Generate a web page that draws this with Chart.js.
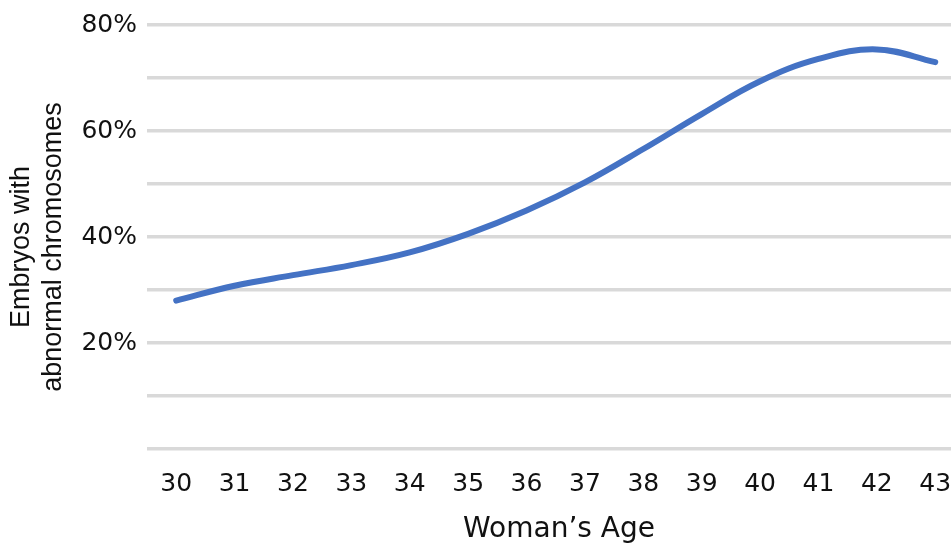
<!DOCTYPE html>
<html>
<head>
<meta charset="utf-8">
<script src="https://cdn.jsdelivr.net/npm/chart.js"></script>
<style>
  html, body { margin: 0; padding: 0; background: #fff; }
  #wrap { width: 951px; height: 544px; }
</style>
</head>
<body>
<div id="wrap"><canvas id="line-chart"></canvas></div>
<script>
const ages = [30, 31, 32, 33, 34, 35, 36, 37, 38, 39, 40, 41, 42, 43];
const abnormalPct = [28.0, 30.8, 32.8, 34.7, 37.1, 40.6, 45.0, 50.3, 56.6, 63.2, 69.4, 73.6, 75.4, 73.0];
const yLabels = [20, 40, 60, 80];
const xTitle = 'Woman\u2019s Age';
const yTitle = ['Embryos with', 'abnormal chromosomes'];

const tickFont = { family: "'DejaVu Sans', sans-serif", size: 25 };

// axis titles drawn by hand so they can sit a bit off the plot centre like the original
const axisTitles = {
    id: 'axisTitles',
    afterDraw(chart) {
        const { ctx, chartArea } = chart;
        ctx.save();
        ctx.fillStyle = '#111';
        ctx.textAlign = 'center';

        ctx.font = "28px 'DejaVu Sans', sans-serif";
        ctx.textBaseline = 'alphabetic';
        ctx.fillText(xTitle, (chartArea.left + chartArea.right) / 2 + 10, 537);

        ctx.font = "27px 'Liberation Sans', Arial, sans-serif";
        ctx.textBaseline = 'middle';
        ctx.translate(22, (chartArea.top + chartArea.bottom) / 2 + 10);
        ctx.rotate(-Math.PI / 2);
        yTitle.forEach((line, i) => ctx.fillText(line, 0, i * 32));
        ctx.restore();
    }
};

new Chart(document.getElementById('line-chart'), {
    type: 'line',
    data: {
        datasets: [{
            data: ages.map((a, i) => ({ x: a, y: abnormalPct[i] })),
            borderColor: '#4472C4',
            borderWidth: 6,
            borderCapStyle: 'round',
            pointRadius: 0,
            tension: 0.4,
            fill: false
        }]
    },
    plugins: [axisTitles],
    options: {
        responsive: true,
        maintainAspectRatio: false,
        animation: false,
        layout: { padding: { top: 24, right: 0, left: 0, bottom: 0 } },
        plugins: {
            legend: { display: false },
            tooltip: { enabled: false }
        },
        scales: {
            x: {
                type: 'linear',
                min: 29.5,
                max: 43.27,
                afterBuildTicks: axis => { axis.ticks = ages.map(v => ({ value: v })); },
                afterFit: axis => {
                    axis.height = 95;
                    axis.paddingLeft = 0;
                    axis.paddingRight = 0;
                },
                grid: { display: false, drawTicks: false },
                border: { display: false },
                ticks: {
                    color: '#111',
                    font: tickFont,
                    padding: 20,
                    maxRotation: 0,
                    autoSkip: false
                }
            },
            y: {
                min: 0,
                max: 80,
                afterFit: axis => { axis.width = 147; },
                grid: { color: '#d9d9d9', lineWidth: 3.5, drawTicks: false },
                border: { display: false },
                ticks: {
                    stepSize: 10,
                    color: '#111',
                    font: tickFont,
                    padding: 10,
                    callback: v => yLabels.includes(v) ? v + '%' : ''
                }
            }
        }
    }
});
</script>
</body>
</html>
